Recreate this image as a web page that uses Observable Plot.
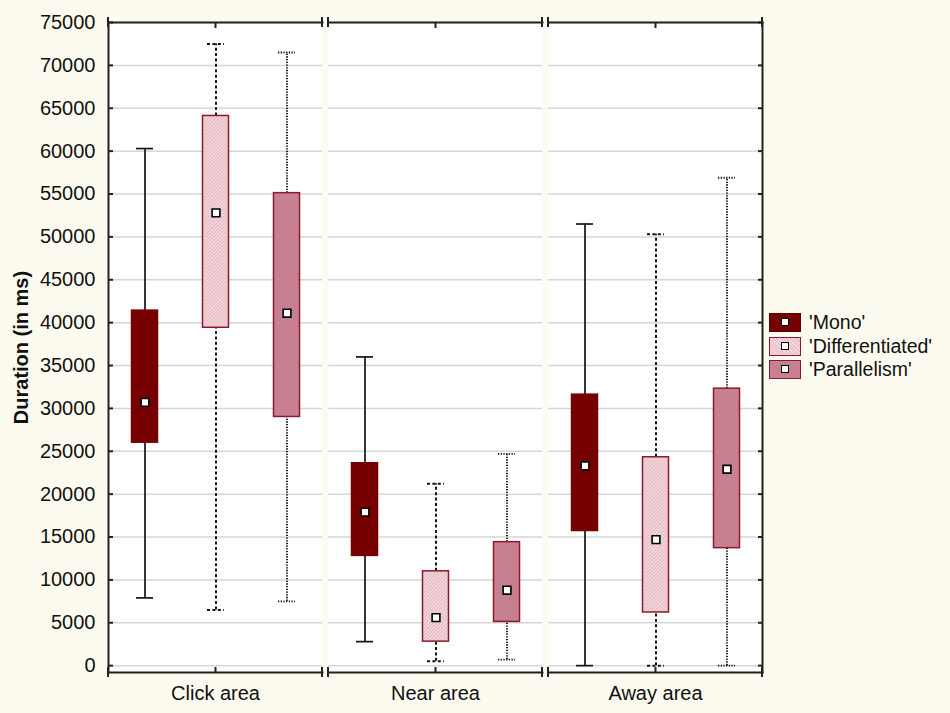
<!DOCTYPE html>
<html><head><meta charset="utf-8">
<script src="https://cdn.jsdelivr.net/npm/d3@7"></script>
<script src="https://cdn.jsdelivr.net/npm/@observablehq/plot@0.6"></script>
<style>
body{margin:0;background:#fdfbef;}
#wrap{position:relative;width:950px;height:713px;font-family:"Liberation Sans",Arial,sans-serif;}
#legend{position:absolute;left:769px;top:311px;font-size:19.5px;color:#111;}
.row{display:flex;align-items:center;height:23.5px;}
.sw{width:30px;height:17px;border:1px solid #8c1a2c;position:relative;margin-right:8px;}
.sw i{position:absolute;left:11px;top:4px;width:8px;height:8px;background:#fff;border:1.5px solid #000;box-sizing:border-box;}
</style></head>
<body>
<div id="wrap"><div id="legend"></div></div>
<script>
const areas = ["Click area", "Near area", "Away area"];
const groups = ["Mono", "Differentiated", "Parallelism"];
const legendLabels = ["'Mono'", "'Differentiated'", "'Parallelism'"];
// values ordered area by area, group by group
const whiskerLow  = [7900, 6500, 7500,   2800, 500, 700,     0, 0, 0];
const boxLow      = [26000, 39400, 29000, 12800, 2800, 5100, 15700, 6200, 13700];
const means       = [30700, 52800, 41100, 17900, 5600, 8800, 23300, 14700, 22900];
const boxHigh     = [41400, 64100, 55100, 23600, 11000, 14400, 31600, 24300, 32300];
const whiskerHigh = [60300, 72500, 71500, 36000, 21200, 24700, 51500, 50300, 56900];
const yTicks = [0, 5000, 10000, 15000, 20000, 25000, 30000, 35000, 40000, 45000, 50000, 55000, 60000, 65000, 70000, 75000];

const rows = areas.flatMap((a, i) => groups.map((g, j) => {
  const k = i * 3 + j;
  return {area: a, group: g, wl: whiskerLow[k], bl: boxLow[k], mean: means[k], bh: boxHigh[k], wh: whiskerHigh[k]};
}));

const styles = {
  "Mono": {fill: "#760000", stroke: "#760000", dash: null, w: 1.7},
  "Differentiated": {fill: "url(#hatch)", stroke: "#8c1a2c", dash: "3,2.4", w: 2},
  "Parallelism": {fill: "#c7808f", stroke: "#8c1a2c", dash: "1.3,1.4", w: 1.9}
};

function edgeTicks(index, scales, values, dim) {
  const {width, height, marginLeft, marginRight, marginTop, marginBottom} = dim;
  const g = d3.create("svg:g").attr("stroke", "#222").attr("stroke-width", 2);
  for (const x of [marginLeft, width - marginRight])
    for (const y of [marginTop, height - marginBottom])
      g.append("line").attr("x1", x).attr("x2", x).attr("y1", y - 5).attr("y2", y + 5);
  return g.node();
}

const marks = [
  Plot.frame({fill: "white", stroke: null}),
  Plot.ruleY(yTicks, {stroke: "#d6d6d6", strokeWidth: 1.5}),
  Plot.frame({anchor: "top", stroke: "#222", strokeWidth: 2}),
  Plot.frame({anchor: "bottom", stroke: "#222", strokeWidth: 2}),
  Plot.frame({anchor: "left", stroke: "#222", strokeWidth: 2, facetAnchor: "left"}),
  Plot.frame({anchor: "right", stroke: "#222", strokeWidth: 2, facetAnchor: "right"}),
  edgeTicks,
  Plot.axisY({anchor: "left", ticks: yTicks, tickFormat: d => String(d), tickSize: -5, tickPadding: 18, fontSize: 20,
    label: "Duration (in ms)", labelAnchor: "center", labelOffset: 95, labelArrow: false, stroke: "#222", strokeWidth: 2}),
  Plot.axisY({anchor: "right", ticks: yTicks, tickSize: -5, tickFormat: () => "", label: null, stroke: "#222", strokeWidth: 2}),
  Plot.axisFx({anchor: "bottom", tickSize: -5, tickPadding: 18, fontSize: 20, label: null, stroke: "#222", strokeWidth: 2}),
  Plot.axisFx({anchor: "top", tickSize: -5, tickFormat: () => "", label: null, stroke: "#222", strokeWidth: 2})
];

for (const g of groups) {
  const d = rows.filter(r => r.group === g);
  const s = styles[g];
  const lineOpts = {x: "group", fx: "area", stroke: "#151515", strokeWidth: s.w, strokeDasharray: s.dash};
  marks.push(
    Plot.ruleX(d, {...lineOpts, y1: "bh", y2: "wh"}),
    Plot.ruleX(d, {...lineOpts, y1: "wl", y2: "bl"}),
    Plot.tickY(d, {...lineOpts, y: "wh", insetLeft: 27, insetRight: 27}),
    Plot.tickY(d, {...lineOpts, y: "wl", insetLeft: 27, insetRight: 27}),
    Plot.barY(d, {x: "group", fx: "area", y1: "bl", y2: "bh", fill: s.fill, stroke: s.stroke, strokeWidth: 1.5, insetLeft: 22.5, insetRight: 22.5}),
    Plot.dot(d, {x: "group", fx: "area", y: "mean", symbol: "square", r: 4.4, fill: "white", stroke: "#000", strokeWidth: 1.6})
  );
}

const svg = Plot.plot({
  width: 950, height: 713,
  marginLeft: 107, marginRight: 187, marginTop: 22, marginBottom: 41,
  style: {background: "#fdfbef", fontFamily: "'Liberation Sans', Arial, sans-serif", fontSize: "20px", color: "#111"},
  fx: {domain: areas, paddingInner: 0.0272, paddingOuter: 0, label: null},
  x: {domain: groups, padding: 0, axis: null},
  y: {domain: [-800, 75000], axis: null},
  marks
});

const defs = d3.select(svg).insert("defs", ":first-child");
const pat = defs.append("pattern").attr("id", "hatch").attr("patternUnits", "userSpaceOnUse")
  .attr("width", 2.5).attr("height", 2.5).attr("patternTransform", "rotate(45)");
pat.append("rect").attr("width", 2.5).attr("height", 2.5).attr("fill", "#f3d8de");
pat.append("rect").attr("width", 0.9).attr("height", 2.5).attr("fill", "#e2b3bf");
d3.select(svg).selectAll('[aria-label="y-axis label"] text').attr("font-weight", "bold");

document.getElementById("wrap").prepend(svg);

const legend = d3.select("#legend");
groups.forEach((g, i) => {
  const row = legend.append("div").attr("class", "row");
  const sw = row.append("div").attr("class", "sw");
  const s = styles[g];
  if (g === "Differentiated") sw.style("background", "repeating-linear-gradient(45deg,#f3d8de 0 1.6px,#e2b3bf 1.6px 2.4px)");
  else sw.style("background", s.fill);
  sw.style("border-color", g === "Mono" ? "#5a0000" : s.stroke);
  sw.append("i");
  row.append("span").text(legendLabels[i]);
});
</script>
</body></html>
